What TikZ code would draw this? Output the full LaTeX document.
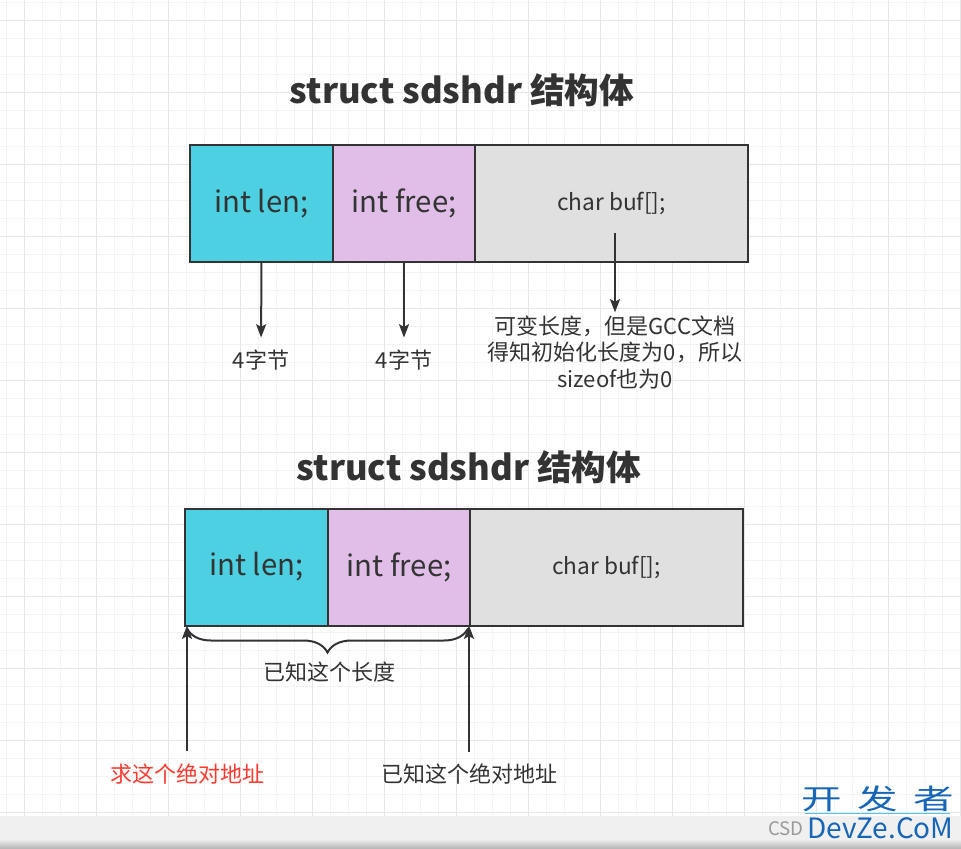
\documentclass[tikz,border=0pt]{standalone}
\usepackage{fontspec}
\setmainfont{Noto Sans CJK SC}
\usetikzlibrary{positioning,arrows.meta,decorations.pathreplacing}

\definecolor{inkgray}{HTML}{333333}
\definecolor{lencyan}{HTML}{4DD0E1}
\definecolor{freepink}{HTML}{E1BEE7}
\definecolor{bufgray}{HTML}{E0E0E0}
\definecolor{gridminor}{HTML}{F3F3F3}
\definecolor{gridmajor}{HTML}{E6E6E6}
\definecolor{askred}{HTML}{FF3B30}
\definecolor{markblue}{HTML}{1766B5}
\definecolor{barcolor}{HTML}{F0F0F0}

\tikzset{
  cell/.style={draw=inkgray, line width=1.5pt, inner sep=0pt, outer sep=0pt,
    minimum height=87.75pt, text=inkgray, font=\fontsize{22}{25}\selectfont},
  smallcell/.style={cell, font=\fontsize{17}{20}\selectfont},
  title/.style={text=inkgray, font=\fontsize{26}{30}\selectfont\bfseries},
  note/.style={text=inkgray, inner sep=0pt, align=center,
    font=\fontsize{16.5}{19.9}\selectfont},
  arrow/.style={draw=inkgray, line width=1.5pt,
    -{Stealth[length=10pt,width=7.5pt,inset=2pt]}},
}

\begin{document}
\begin{tikzpicture}[x=0.75pt,y=-0.75pt]
\useasboundingbox (0,0) rectangle (961,849);
\fill[white] (0,0) rectangle (961,849);
% paper grid
\foreach \gx in {6,24,...,960} \draw[gridminor, line width=0.75pt] (\gx,0) -- (\gx,816);
\foreach \gy in {2.7,20.7,...,816} \draw[gridminor, line width=0.75pt] (0,\gy) -- (961,\gy);
\foreach \gx in {24,96,...,960} \draw[gridmajor, line width=0.75pt] (\gx,0) -- (\gx,816);
\foreach \gy in {20.7,92.7,...,816} \draw[gridmajor, line width=0.75pt] (0,\gy) -- (961,\gy);
% bottom bar
\fill[barcolor] (0,816) rectangle (961,841);
\shade[top color=barcolor, bottom color=black!30] (0,839) rectangle (961,849);

% upper struct
\node[title] (title) at (462,90) {struct sdshdr 结构体};
\node[cell, fill=lencyan, minimum width=107.25pt] (len) at (261.5,203.5) {int len;};
\node[cell, fill=freepink, minimum width=106.5pt, right=0pt of len] (free) {int free;};
\node[smallcell, fill=bufgray, minimum width=204.75pt, right=0pt of free] (buf) {char buf[];};

\node[note] (lenlab) at (261,360) {4字节};
\node[note] (freelab) at (404,360) {4字节};
\coordinate (bufpin) at (615,233);
\node[note] (bufnote) at (615,352) {可变长度，但是GCC文档\\得知初始化长度为0，所以\\sizeof也为0};
\draw[arrow, shorten >=9pt] (len.south) -- (lenlab.north);
\draw[arrow, shorten >=9pt] (free.south) -- (freelab.north);
\draw[arrow, shorten >=2pt] (bufpin) -- (bufnote.north);

% lower struct
\node[title] (title2) at (469,467) {struct sdshdr 结构体};
\node[cell, fill=lencyan, minimum width=107.25pt] (len2) at (256.5,567) {int len;};
\node[cell, fill=freepink, minimum width=106.5pt, right=0pt of len2] (free2) {int free;};
\node[smallcell, fill=bufgray, minimum width=204.75pt, right=0pt of free2] (buf2) {char buf[];};

\draw[inkgray, line width=1.5pt, decorate, decoration={brace, mirror, amplitude=18pt}]
  ([shift={(2,3)}]len2.south west) -- ([shift={(-2,3)}]free2.south east);
\node[note] (sizelab) at (329,672) {已知这个长度};

\node[note, text=askred] (asklab) at (187,774) {求这个绝对地址};
\node[note] (knownlab) at (469,774) {已知这个绝对地址};
\draw[arrow, shorten <=9pt] (asklab.north) -- (asklab.north |- len2.south);
\draw[arrow, shorten <=9pt] (knownlab.north) -- (knownlab.north |- free2.south);

% watermark
\node[text=black!40, font=\fontsize{14}{14}\selectfont, inner sep=0pt, anchor=east] (csdn) at (804,829) {CSD};
\node[text=markblue, font=\fontsize{21}{21}\selectfont, xscale=1.45, transform shape] (markcn) at (878,799) {开\hspace{8pt}发\hspace{8pt}者};
\draw[cyan!70, line width=0.75pt] (805,813) -- (950,813);
\node[text=markblue, font=\fontsize{21}{21}\selectfont, inner sep=0pt, anchor=west] (markurl) at (807,828) {DevZe.CoM};
\end{tikzpicture}
\end{document}
